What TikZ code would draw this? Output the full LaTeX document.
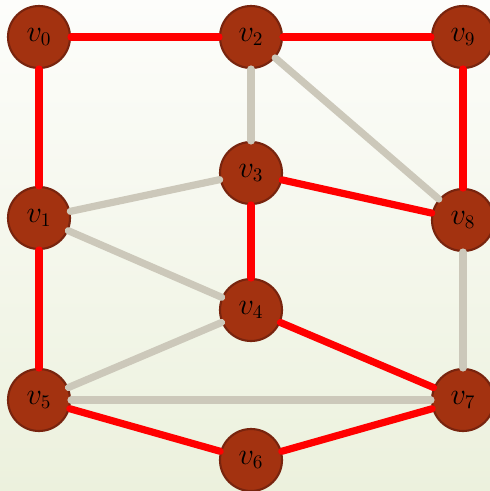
\documentclass[tikz,border=0pt]{standalone}
\definecolor{gVertex}{RGB}{163, 50, 16}
\definecolor{gVertexRim}{RGB}{120, 36, 14}
\definecolor{gRed}{RGB}{255, 0, 0}
\definecolor{gGray}{RGB}{204, 200, 186}
\definecolor{gBgTop}{RGB}{253, 253, 251}
\definecolor{gBgBottom}{RGB}{236, 241, 221}
\usepackage{tikz}
\usetikzlibrary{calc}
\tikzset{
  vertex/.style={circle, draw=gVertexRim, line width=1.2pt, fill=gVertex, minimum size=1.24cm, inner sep=0pt, font=\fontsize{16}{18}\selectfont},
  treeedge/.style={line width=4.1pt, line cap=round, gRed},
  otheredge/.style={line width=4.1pt, line cap=round, gGray},
}
\begin{document}
\begin{tikzpicture}[x=0.02cm, y=-0.02cm]
  \useasboundingbox (0, 0) rectangle (490, 491);
  \shade[top color=gBgTop, bottom color=gBgBottom] (0, 0) rectangle (490, 491);

  \node[vertex] (v0) at (39, 37) {$v_0$};
  \node[vertex] (v2) at (251, 37) {$v_2$};
  \node[vertex] (v9) at (463, 37) {$v_9$};
  \node[vertex] (v3) at (251, 173) {$v_3$};
  \node[vertex] (v1) at (39, 218) {$v_1$};
  \node[vertex] (v8) at (463, 220) {$v_8$};
  \node[vertex] (v4) at (251, 310) {$v_4$};
  \node[vertex] (v5) at (39, 400) {$v_5$};
  \node[vertex] (v7) at (463, 400) {$v_7$};
  \node[vertex] (v6) at (251, 460) {$v_6$};

  \foreach \a/\b in {v0/v2, v2/v9, v0/v1, v1/v5, v9/v8, v3/v8, v3/v4, v4/v7, v5/v6, v6/v7} {
    \draw[treeedge] (\a) -- (\b);
  }
  \foreach \a/\b in {v2/v3, v2/v8, v3/v1, v1/v4, v4/v5, v5/v7, v8/v7} {
    \draw[otheredge] (\a) -- (\b);
  }
\end{tikzpicture}
\end{document}
